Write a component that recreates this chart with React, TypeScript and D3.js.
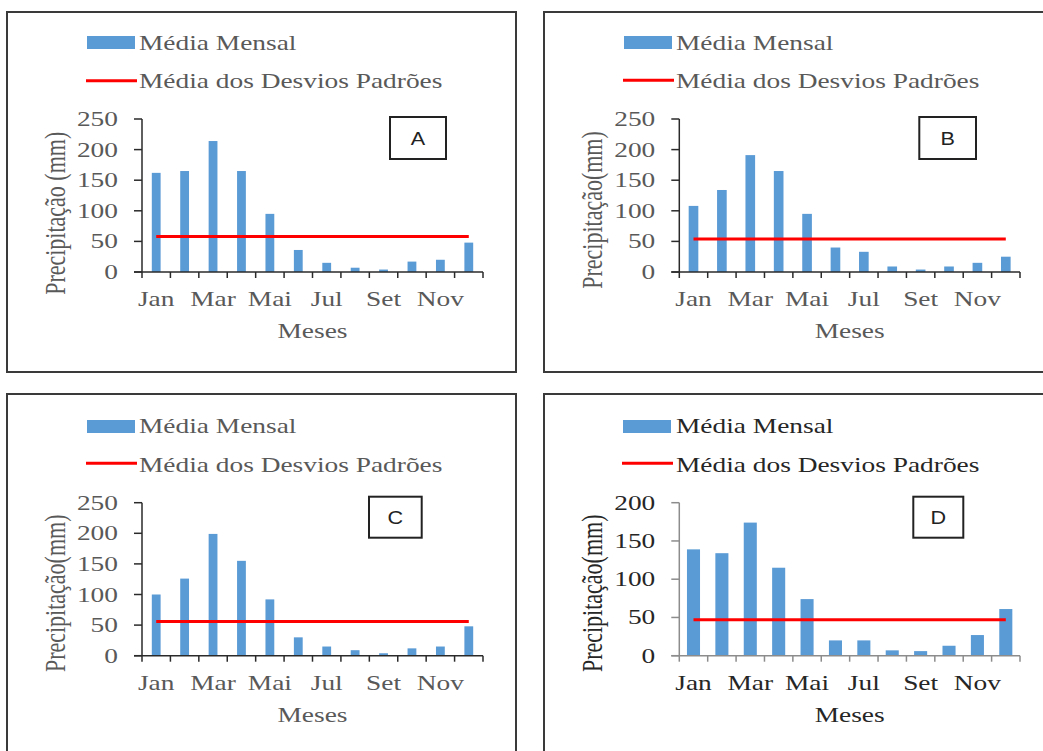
import React from "react";
import * as d3 from "d3";

// ---------- DATA ----------
const months = ["Jan", "Fev", "Mar", "Abr", "Mai", "Jun", "Jul", "Ago", "Set", "Out", "Nov", "Dez"];
const monthTickLabels = ["Jan", "", "Mar", "", "Mai", "", "Jul", "", "Set", "", "Nov", ""];

const valuesA = [162, 165, 214, 165, 95, 36, 15, 7, 4, 17, 20, 48];
const valuesB = [108, 134, 191, 165, 95, 40, 33, 9, 4, 9, 15, 25];
const valuesC = [100, 126, 199, 155, 92, 30, 15, 9, 4, 12, 15, 48];
const valuesD = [139, 134, 174, 115, 74, 20, 20, 7, 6, 13, 27, 61];

const stdA = 58;
const stdB = 54;
const stdC = 56;
const stdD = 47;

const yTicks250 = [0, 50, 100, 150, 200, 250];
const yTicks200 = [0, 50, 100, 150, 200];

const legendBar = "Média Mensal";
const legendLine = "Média dos Desvios Padrões";
const xTitle = "Meses";
const yTitleA = "Precipitação (mm)";
const yTitleOther = "Precipitação(mm)";

// ---------- STYLE / LAYOUT ----------
const SX = 1.37;
const SERIF = "'Liberation Serif', 'Times New Roman', serif";
const SANS = "'Liberation Sans', Arial, sans-serif";
const BLUE = "#5B9BD5";
const RED = "#FF0000";

type Panel = {
  letter: string;
  values: number[];
  std: number;
  ticks: number[];
  yMax: number;
  yTitle: string;
  frame: { x: number; y: number; w: number; h: number };
  plot: { x0: number; x1: number; yTop: number; yBottom: number };
  legend: { swatchX: number; swatchY: number; textX: number; row1: number; lineY: number; row2: number };
  box: { x: number; y: number; w: number; h: number };
  title: { x: number; y: number };
  barFrac: number;
  textColor: string;
  axisColor: string;
};

const panels: Panel[] = [
  {
    letter: "A",
    values: valuesA,
    std: stdA,
    ticks: yTicks250,
    yMax: 250,
    yTitle: yTitleA,
    frame: { x: 7, y: 12, w: 509, h: 360 },
    plot: { x0: 142, x1: 483, yTop: 119, yBottom: 272 },
    legend: { swatchX: 87, swatchY: 36, textX: 139, row1: 50, lineY: 80.7, row2: 88.3 },
    box: { x: 390, y: 117, w: 56, h: 42 },
    title: { x: 65, y: 213.3 },
    barFrac: 0.31,
    textColor: "#595959",
    axisColor: "#2a2a2a",
  },
  {
    letter: "B",
    values: valuesB,
    std: stdB,
    ticks: yTicks250,
    yMax: 250,
    yTitle: yTitleOther,
    frame: { x: 544, y: 12, w: 520, h: 360 },
    plot: { x0: 679.3, x1: 1020, yTop: 119, yBottom: 272 },
    legend: { swatchX: 624, swatchY: 36, textX: 676, row1: 50, lineY: 80.3, row2: 88.3 },
    box: { x: 919.3, y: 117, w: 56.7, h: 42 },
    title: { x: 602, y: 210 },
    barFrac: 0.34,
    textColor: "#595959",
    axisColor: "#2a2a2a",
  },
  {
    letter: "C",
    values: valuesC,
    std: stdC,
    ticks: yTicks250,
    yMax: 250,
    yTitle: yTitleOther,
    frame: { x: 7, y: 394, w: 509, h: 380 },
    plot: { x0: 142, x1: 483, yTop: 502.7, yBottom: 655.7 },
    legend: { swatchX: 87, swatchY: 420, textX: 139, row1: 433.3, lineY: 463.3, row2: 471.7 },
    box: { x: 369, y: 496.7, w: 52.7, h: 41 },
    title: { x: 65, y: 593.3 },
    barFrac: 0.31,
    textColor: "#595959",
    axisColor: "#2a2a2a",
  },
  {
    letter: "D",
    values: valuesD,
    std: stdD,
    ticks: yTicks200,
    yMax: 200,
    yTitle: yTitleOther,
    frame: { x: 544, y: 394, w: 520, h: 380 },
    plot: { x0: 679.3, x1: 1020, yTop: 502.7, yBottom: 655.7 },
    legend: { swatchX: 623, swatchY: 420, textX: 676, row1: 433.3, lineY: 463.3, row2: 471.7 },
    box: { x: 913.3, y: 496.7, w: 50, h: 41 },
    title: { x: 602, y: 593.3 },
    barFrac: 0.46,
    textColor: "#262626",
    axisColor: "#8c8c8c",
  },
];

function STextH({ x, y, anchor = "start", size = 20, color, children, family = SERIF, sx = SX }: any) {
  return (
    <text
      transform={`translate(${x},${y}) scale(${sx},1)`}
      textAnchor={anchor}
      fontSize={size}
      fontFamily={family}
      fill={color}
    >
      {children}
    </text>
  );
}

function PanelView({ p }: { p: Panel }) {
  const x = d3.scaleBand<string>().domain(months).range([p.plot.x0, p.plot.x1]).paddingInner(0).paddingOuter(0);
  const y = d3.scaleLinear().domain([0, p.yMax]).range([p.plot.yBottom, p.plot.yTop]);
  const bw = x.bandwidth();
  const barW = bw * p.barFrac;
  const boundaries = months.map((m) => x(m) as number).concat([p.plot.x1]);
  const centers = months.map((m) => (x(m) as number) + bw / 2);
  const line = d3.line<number>().x((_, i) => centers[i]).y((v) => y(v));
  const stdPts = [p.std, p.std];
  const stdLine = d3
    .line<number>()
    .x((_, i) => (i === 0 ? centers[0] : centers[centers.length - 1]))
    .y((v) => y(v));
  void line;

  return (
    <g>
      <rect x={p.frame.x} y={p.frame.y} width={p.frame.w} height={p.frame.h} fill="white" stroke="#3a3a3a" strokeWidth={2} />
      {/* legend */}
      <rect x={p.legend.swatchX} y={p.legend.swatchY} width={48} height={13} fill={BLUE} />
      <STextH x={p.legend.textX} y={p.legend.row1} color={p.textColor}>{legendBar}</STextH>
      <line x1={p.legend.swatchX - 1} x2={p.legend.swatchX + 50} y1={p.legend.lineY} y2={p.legend.lineY} stroke={RED} strokeWidth={3} />
      <STextH x={p.legend.textX} y={p.legend.row2} color={p.textColor}>{legendLine}</STextH>

      {/* bars */}
      {p.values.map((v, i) => (
        <rect
          key={i}
          x={(x(months[i]) as number) + (bw - barW) / 2}
          y={y(v)}
          width={barW}
          height={p.plot.yBottom - y(v)}
          fill={BLUE}
        />
      ))}

      {/* std line */}
      <path d={stdLine(stdPts) as string} stroke={RED} strokeWidth={3} fill="none" />

      {/* y axis */}
      <line x1={p.plot.x0} x2={p.plot.x0} y1={p.plot.yTop} y2={p.plot.yBottom} stroke={p.axisColor} strokeWidth={1.5} />
      {p.ticks.map((t) => (
        <g key={t}>
          <line x1={p.plot.x0 - 8} x2={p.plot.x0} y1={y(t)} y2={y(t)} stroke={p.axisColor} strokeWidth={1.5} />
          <STextH x={p.plot.x0 - 24} y={y(t) + 7} anchor="end" color={p.textColor}>{String(t)}</STextH>
        </g>
      ))}

      {/* x axis */}
      <line x1={p.plot.x0 - 8} x2={p.plot.x1} y1={p.plot.yBottom} y2={p.plot.yBottom} stroke={p.axisColor} strokeWidth={1.5} />
      {boundaries.map((bx, i) => (
        <line key={i} x1={bx} x2={bx} y1={p.plot.yBottom} y2={p.plot.yBottom + 6} stroke={p.axisColor} strokeWidth={1.5} />
      ))}
      {monthTickLabels.map((lab, i) =>
        lab ? (
          <STextH key={i} x={centers[i]} y={p.plot.yBottom + 34} anchor="middle" color={p.textColor}>{lab}</STextH>
        ) : null
      )}
      <STextH x={(p.plot.x0 + p.plot.x1) / 2} y={p.plot.yBottom + 66} anchor="middle" color={p.textColor}>{xTitle}</STextH>

      {/* y title */}
      <text
        transform={`translate(${p.title.x},${p.title.y}) scale(${SX},1) rotate(-90)`}
        textAnchor="middle"
        fontSize={22}
        fontFamily={SERIF}
        fill={p.textColor}
      >
        {p.yTitle}
      </text>

      {/* letter box */}
      <rect x={p.box.x} y={p.box.y} width={p.box.w} height={p.box.h} fill="white" stroke="#222" strokeWidth={2} />
      <STextH
        x={p.box.x + p.box.w / 2}
        y={p.box.y + p.box.h / 2 + 6.5}
        anchor="middle"
        size={18}
        sx={1.2}
        family={SANS}
        color="#222"
      >
        {p.letter}
      </STextH>
    </g>
  );
}

export default function App() {
  return (
    <svg
      width={1043}
      height={751}
      style={{ position: "absolute", left: 0, top: 0, background: "white" }}
      xmlns="http://www.w3.org/2000/svg"
    >
      <rect x={0} y={0} width={1043} height={751} fill="white" />
      {panels.map((p) => (
        <PanelView key={p.letter} p={p} />
      ))}
    </svg>
  );
}
